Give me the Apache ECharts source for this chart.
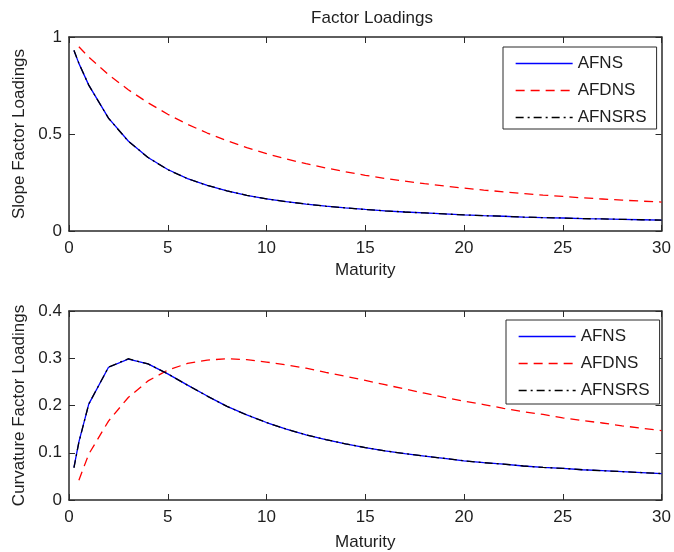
<!DOCTYPE html>
<html>
<head>
<meta charset="utf-8">
<title>Factor Loadings</title>
<script src="https://cdn.jsdelivr.net/npm/echarts@6/dist/echarts.min.js"></script>
<style>
  html, body { margin: 0; padding: 0; background: #fff; }
  #chart { width: 674px; height: 552px; }
</style>
</head>
<body>
<div id="chart"></div>
<script>
// Maturities (years) shared by every curve
const maturity = [0.25, 0.5, 1, 2, 3, 4, 5, 6, 7, 8, 9, 10, 11, 12, 13, 14, 15,
  16, 17, 18, 19, 20, 21, 22, 23, 24, 25, 26, 27, 28, 29, 30];

// Slope factor loadings
const slopeAFNS = [0.930, 0.864, 0.752, 0.582, 0.464, 0.379, 0.317, 0.270, 0.235, 0.207, 0.184, 0.166,
  0.151, 0.139, 0.128, 0.119, 0.111, 0.104, 0.098, 0.093, 0.088, 0.083, 0.079, 0.076, 0.072, 0.069,
  0.067, 0.064, 0.062, 0.060, 0.058, 0.056];
const slopeAFDNS = [null, 0.950, 0.896, 0.806, 0.728, 0.661, 0.602, 0.550, 0.505, 0.465, 0.430, 0.399,
  0.371, 0.347, 0.325, 0.305, 0.287, 0.271, 0.257, 0.244, 0.232, 0.221, 0.211, 0.202, 0.193, 0.185,
  0.178, 0.171, 0.165, 0.159, 0.154, 0.149];
const slopeAFNSRS = [0.932, 0.865, 0.752, 0.581, 0.463, 0.379, 0.316, 0.270, 0.235, 0.207, 0.184, 0.166,
  0.151, 0.139, 0.128, 0.119, 0.111, 0.104, 0.098, 0.093, 0.088, 0.083, 0.079, 0.076, 0.072, 0.069,
  0.067, 0.064, 0.062, 0.060, 0.058, 0.056];

// Curvature factor loadings
const curvAFNS = [0.069, 0.123, 0.203, 0.281, 0.298, 0.288, 0.267, 0.243, 0.220, 0.198, 0.180, 0.164,
  0.150, 0.138, 0.128, 0.119, 0.111, 0.104, 0.098, 0.093, 0.088, 0.083, 0.079, 0.076, 0.072, 0.069,
  0.067, 0.064, 0.062, 0.060, 0.058, 0.056];
const curvAFDNS = [null, 0.042, 0.097, 0.167, 0.217, 0.252, 0.275, 0.289, 0.296, 0.299, 0.297, 0.292,
  0.286, 0.279, 0.270, 0.262, 0.253, 0.244, 0.235, 0.226, 0.217, 0.209, 0.202, 0.194, 0.187, 0.181,
  0.174, 0.168, 0.163, 0.157, 0.152, 0.147];
const curvAFNSRS = [0.068, 0.122, 0.203, 0.281, 0.299, 0.288, 0.267, 0.243, 0.220, 0.198, 0.180, 0.164,
  0.150, 0.138, 0.128, 0.119, 0.111, 0.104, 0.098, 0.093, 0.088, 0.083, 0.079, 0.076, 0.072, 0.069,
  0.067, 0.064, 0.062, 0.060, 0.058, 0.056];

// Tick positions
const maturityTicks = [0, 5, 10, 15, 20, 25, 30];
const slopeTicks = [0, 0.5, 1];
const curvTicks = [0, 0.1, 0.2, 0.3, 0.4];

const seriesNames = ['AFNS', 'AFDNS', 'AFNSRS'];
const FONT = 'Liberation Sans, Arial, sans-serif';
const TEXT = '#1e1e1e';
const AXIS = '#2a2a2a';

function pairs(values) {
  const out = [];
  values.forEach((v, i) => { if (v !== null) out.push([maturity[i], v]); });
  return out;
}

const lineStyles = {
  AFNS: { color: '#0000ff', width: 1.3, type: 'solid' },
  AFDNS: { color: '#ff0000', width: 1.3, type: [9, 6] },
  AFNSRS: { color: '#000000', width: 1.3, type: [8, 4, 2, 4] }
};

function makeSeries(name, values, axisIndex) {
  return {
    name: name,
    type: 'line',
    xAxisIndex: axisIndex,
    yAxisIndex: axisIndex,
    data: pairs(values),
    symbol: 'none',
    showSymbol: false,
    animation: false,
    lineStyle: lineStyles[name],
    itemStyle: { color: lineStyles[name].color },
    z: name === 'AFNSRS' ? 4 : (name === 'AFNS' ? 3 : 2)
  };
}

function step(ticks) { return ticks[1] - ticks[0]; }

function bottomX(gridIndex, nameGap) {
  return {
    type: 'value', gridIndex: gridIndex, position: 'bottom',
    min: maturityTicks[0], max: maturityTicks[maturityTicks.length - 1], interval: step(maturityTicks),
    name: 'Maturity', nameLocation: 'middle', nameGap: nameGap,
    nameTextStyle: { fontFamily: FONT, fontSize: 17, color: TEXT },
    axisLine: { show: true, onZero: false, lineStyle: { color: AXIS, width: 1.5 } },
    axisTick: { show: true, inside: true, length: 6, lineStyle: { color: AXIS, width: 1 } },
    axisLabel: { fontFamily: FONT, fontSize: 17, color: TEXT, margin: 9 },
    splitLine: { show: false }
  };
}
function topX(gridIndex) {
  return {
    type: 'value', gridIndex: gridIndex, position: 'top',
    min: maturityTicks[0], max: maturityTicks[maturityTicks.length - 1], interval: step(maturityTicks),
    axisLine: { show: true, onZero: false, lineStyle: { color: AXIS, width: 1.5 } },
    axisTick: { show: true, inside: true, length: 6, lineStyle: { color: AXIS, width: 1 } },
    axisLabel: { show: false },
    splitLine: { show: false }
  };
}
function leftY(gridIndex, ticks, name) {
  return {
    type: 'value', gridIndex: gridIndex, position: 'left',
    min: ticks[0], max: ticks[ticks.length - 1], interval: step(ticks),
    name: name, nameLocation: 'middle', nameGap: 41, nameRotate: 90,
    nameTextStyle: { fontFamily: FONT, fontSize: 17, color: TEXT },
    axisLine: { show: true, onZero: false, lineStyle: { color: AXIS, width: 1.5 } },
    axisTick: { show: true, inside: true, length: 6, lineStyle: { color: AXIS, width: 1 } },
    axisLabel: { fontFamily: FONT, fontSize: 17, color: TEXT, margin: 7 },
    splitLine: { show: false }
  };
}
function rightY(gridIndex, ticks) {
  return {
    type: 'value', gridIndex: gridIndex, position: 'right',
    min: ticks[0], max: ticks[ticks.length - 1], interval: step(ticks),
    axisLine: { show: true, onZero: false, lineStyle: { color: AXIS, width: 1.5 } },
    axisTick: { show: true, inside: true, length: 6, lineStyle: { color: AXIS, width: 1 } },
    axisLabel: { show: false },
    splitLine: { show: false }
  };
}

function legendAt(left, top, padBottom) {
  return {
    data: seriesNames,
    orient: 'vertical', align: 'left',
    left: left, top: top,
    padding: [8, 10, padBottom, 12],
    itemWidth: 57, itemHeight: 17, itemGap: 10,
    backgroundColor: '#ffffff',
    borderColor: AXIS, borderWidth: 1,
    selectedMode: false,
    // keys show only the line stroke, no marker
    itemStyle: { opacity: 0, borderWidth: 0 },
    lineStyle: { width: 1.3 },
    textStyle: { fontFamily: FONT, fontSize: 17, color: TEXT }
  };
}

const chart = echarts.init(document.getElementById('chart'), null, { renderer: 'canvas' });
chart.setOption({
  backgroundColor: '#ffffff',
  animation: false,
  title: {
    text: 'Factor Loadings', left: 367, top: 5, textAlign: 'center',
    textStyle: { fontFamily: FONT, fontSize: 17, fontWeight: 'normal', color: TEXT }
  },
  legend: [legendAt(503, 47, 3), legendAt(506, 320, 5)],
  grid: [
    { left: 69, right: 8, top: 37, height: 194 },
    { left: 69, right: 8, top: 311, height: 193 }
  ],
  xAxis: [bottomX(0, 31), bottomX(1, 34), topX(0), topX(1)],
  yAxis: [
    leftY(0, slopeTicks, 'Slope Factor Loadings'),
    leftY(1, curvTicks, 'Curvature Factor Loadings'),
    rightY(0, slopeTicks),
    rightY(1, curvTicks)
  ],
  series: [
    makeSeries('AFNS', slopeAFNS, 0),
    makeSeries('AFDNS', slopeAFDNS, 0),
    makeSeries('AFNSRS', slopeAFNSRS, 0),
    makeSeries('AFNS', curvAFNS, 1),
    makeSeries('AFDNS', curvAFDNS, 1),
    makeSeries('AFNSRS', curvAFNSRS, 1)
  ]
});
</script>
</body>
</html>
